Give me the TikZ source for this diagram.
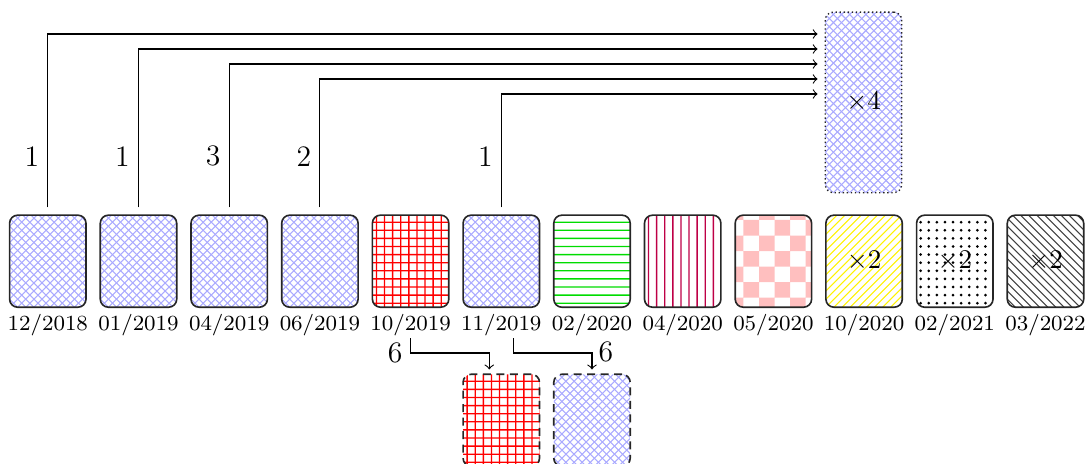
\documentclass[tikz,border=0pt]{standalone}
\usetikzlibrary{calc}
\definecolor{gridred}{RGB}{255,0,0}
\definecolor{linepurple}{RGB}{190,0,70}
\definecolor{linegreen}{RGB}{0,220,0}
\definecolor{hatchblue}{RGB}{170,170,255}
\definecolor{checkpink}{RGB}{255,191,191}
\newcommand\PPsw{path picture bounding box.south west}
% hatch helpers (drawn inside path pictures, clipped to the card)
\newcommand\hatchNE[1]{\draw[#1,solid,sharp corners,line width=0.4pt] \foreach \k in {-25,...,12}{([xshift=\k*3pt]\PPsw) -- ++(80pt,80pt)};}
\newcommand\hatchNW[1]{\draw[#1,solid,sharp corners,line width=0.4pt] \foreach \k in {-2,...,36}{([xshift=\k*3pt]\PPsw) -- ++(-80pt,80pt)};}
\newcommand\hatchH[1]{\fill[#1,solid,sharp corners] \foreach \k in {0,...,23}{([yshift=\k*3pt+1.25pt]\PPsw) rectangle ++(40pt,0.5pt)};}
\newcommand\hatchV[1]{\fill[#1,solid,sharp corners] \foreach \k in {0,...,10}{([xshift=\k*3pt+1.25pt]\PPsw) rectangle ++(0.5pt,80pt)};}
\newcommand\dotgrid[1]{\fill[#1,solid] \foreach \i in {0,...,10}{\foreach \j in {0,...,12}{([xshift=\i*3pt+1.5pt,yshift=\j*3pt+1.5pt]\PPsw) circle[radius=0.55pt]}};}
\newcommand\checkers[1]{\fill[#1,solid,sharp corners] \foreach \i [evaluate=\i as \o using {int(mod(\i,2))}] in {0,...,5}{\foreach \j in {0,...,3}{([xshift=\i*5.75pt-2.68pt,yshift=(2*\j+\o)*5.75pt-2.19pt]\PPsw) rectangle ++(5.75pt,5.75pt)}};}
\begin{document}
\begin{tikzpicture}[x=0.37037pt,y=-0.37037pt,
  card/.style={draw=black!85, line width=0.6pt, rounded corners=3pt,
    minimum width=28.3pt, minimum height=34.1pt, inner sep=0pt,
    font=\fontsize{10}{12}\selectfont},
  bluehatch/.style={path picture={\hatchNE{hatchblue}\hatchNW{hatchblue}}},
  redgrid/.style={path picture={\hatchH{gridred}\hatchV{gridred}}},
  greenlines/.style={path picture={\hatchH{linegreen}}},
  pinklines/.style={path picture={\hatchV{linepurple}}},
  checker/.style={path picture={\checkers{checkpink}}},
  yellowlines/.style={path picture={\hatchNE{yellow}}},
  blackdots/.style={path picture={\dotgrid{black}}},
  greylines/.style={path picture={\hatchNW{black!75}}},
  datelbl/.style={font=\fontsize{8}{9.6}\selectfont, anchor=base, inner sep=0pt},
  num/.style={font=\fontsize{11}{13}\selectfont, inner sep=0pt},
  link/.style={->, line width=0.4pt},
]
\useasboundingbox (0,0) rectangle (1086,464);

% top collector box
\node[card, bluehatch, line width=0.5pt, densely dotted, minimum height=66.9pt] (top) at (863.5,102.4) {$\times4$};

% row of cards
\node[card, bluehatch]   (b1)  at (47.8,261.2)   {};
\node[card, bluehatch]   (b2)  at (138.5,261.2)  {};
\node[card, bluehatch]   (b3)  at (229.2,261.2)  {};
\node[card, bluehatch]   (b4)  at (319.9,261.2)  {};
\node[card, redgrid]     (b5)  at (410.6,261.2)  {};
\node[card, bluehatch]   (b6)  at (501.3,261.2)  {};
\node[card, greenlines]  (b7)  at (592.0,261.2)  {};
\node[card, pinklines]   (b8)  at (682.7,261.2)  {};
\node[card, checker]     (b9)  at (773.4,261.2)  {};
\node[card, yellowlines] (b10) at (864.1,261.2)  {$\times2$};
\node[card, blackdots]   (b11) at (954.8,261.2)  {$\times2$};
\node[card, greylines]   (b12) at (1045.5,261.2) {$\times2$};

% dates
\node[datelbl] (d1)  at (47.8,330.7)   {12/2018};
\node[datelbl] (d2)  at (138.5,330.7)  {01/2019};
\node[datelbl] (d3)  at (229.2,330.7)  {04/2019};
\node[datelbl] (d4)  at (319.9,330.7)  {06/2019};
\node[datelbl] (d5)  at (410.6,330.7)  {10/2019};
\node[datelbl] (d6)  at (501.3,330.7)  {11/2019};
\node[datelbl] (d7)  at (592.0,330.7)  {02/2020};
\node[datelbl] (d8)  at (682.7,330.7)  {04/2020};
\node[datelbl] (d9)  at (773.4,330.7)  {05/2020};
\node[datelbl] (d10) at (864.1,330.7)  {10/2020};
\node[datelbl] (d11) at (954.8,330.7)  {02/2021};
\node[datelbl] (d12) at (1045.5,330.7) {03/2022};

% bottom cards
\node[card, redgrid, densely dashed]   (c1) at (501.3,420.3) {};
\node[card, bluehatch, densely dashed] (c2) at (592.0,420.3) {};

% arrows to the top box
\draw[link, shorten <=2.6pt, shorten >=2.6pt] (b1.north) |- ($(top.west)+(0,-68.4)$);
\draw[link, shorten <=2.6pt, shorten >=2.6pt] (b2.north) |- ($(top.west)+(0,-53.4)$);
\draw[link, shorten <=2.6pt, shorten >=2.6pt] (b3.north) |- ($(top.west)+(0,-38.4)$);
\draw[link, shorten <=2.6pt, shorten >=2.6pt] (b4.north) |- ($(top.west)+(0,-23.4)$);
\draw[link, shorten <=2.6pt, shorten >=2.6pt] (b6.north) |- ($(top.west)+(0,-8.4)$);

\node[num] (n1) at ($(b1.north)+(-16,-58)$) {1};
\node[num] (n2) at ($(b2.north)+(-16,-58)$) {1};
\node[num] (n3) at ($(b3.north)+(-16,-58)$) {3};
\node[num] (n4) at ($(b4.north)+(-16,-58)$) {2};
\node[num] (n6) at ($(b6.north)+(-16,-58)$) {1};

% arrows to the bottom cards
\draw[link] ($(b5.south)+(0,30)$) -- ++(0,15) -| ($(c1.north)+(-12,-4)$);
\draw[link] ($(b6.south)+(12,30)$) -- ++(0,15) -| ($(c2.north)+(0,-4)$);
\node[num] (s1) at ($(b5.south)+(-15.5,45)$) {6};
\node[num] (s2) at ($(c2.north)+(14,-22)$) {6};
\end{tikzpicture}
\end{document}
